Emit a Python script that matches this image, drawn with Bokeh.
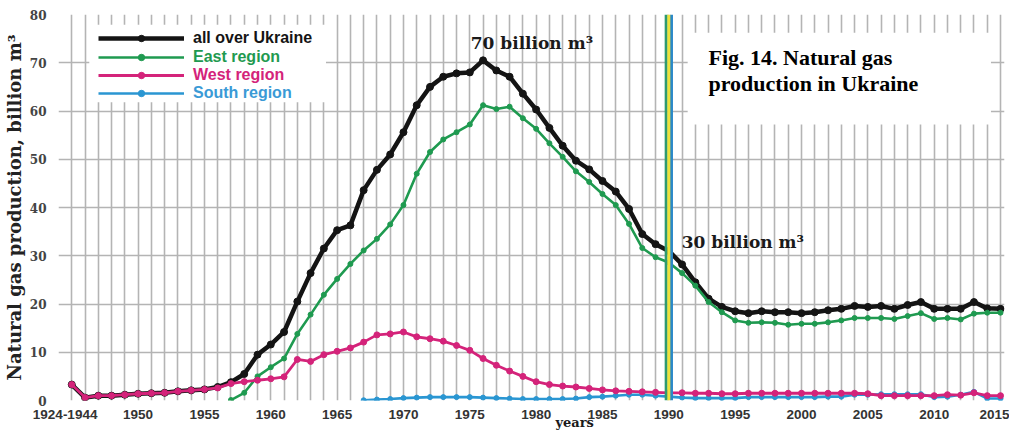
from bokeh.plotting import figure
from bokeh.models import (Legend, LegendItem, Label, Span, BoxAnnotation,
                          FixedTicker, SingleIntervalTicker, LinearAxis)
from bokeh.embed import file_html
from bokeh.resources import INLINE

# ---- data (billion m3) ----
# first position (1945) holds the "1924-1944" value
years_all = list(range(1945, 2016))
all_ukraine = [3.3, 0.6, 1.0, 1.0, 1.2, 1.4, 1.5, 1.6, 1.9, 2.1, 2.3,
               2.8, 3.8, 5.5, 9.5, 11.6, 14.2, 20.5, 26.4, 31.5, 35.3,
               36.3, 43.6, 47.8, 51.0, 55.6, 61.2, 65.0, 67.1, 67.8, 68.0,
               70.5, 68.4, 67.1, 63.6, 60.3, 56.5, 52.8, 49.7, 47.9, 45.5,
               43.3, 39.7, 34.5, 32.4, 31.0, 28.2, 24.5, 21.1, 19.4, 18.5,
               18.1, 18.5, 18.3, 18.3, 18.1, 18.3, 18.7, 19.0, 19.6, 19.4,
               19.6, 19.0, 19.8, 20.4, 19.0, 19.0, 19.0, 20.4, 19.1, 19.0]

years_east = list(range(1957, 2016))
east = [0.1, 1.6, 5.0, 6.9, 8.7, 13.8, 17.8, 21.9, 25.2, 28.3,
        31.1, 33.5, 36.5, 40.5, 47.0, 51.5, 54.1, 55.6, 57.2, 61.2,
        60.4, 60.9, 58.5, 56.3, 53.3, 50.5, 47.5, 45.3, 42.8, 40.5,
        36.6, 31.6, 29.7, 28.6, 26.4, 23.8, 20.4, 18.3, 16.6, 16.1,
        16.2, 16.1, 15.7, 15.9, 15.9, 16.2, 16.6, 17.1, 17.1, 17.1,
        16.9, 17.5, 18.1, 16.9, 17.1, 16.8, 18.0, 18.2, 18.2]

years_west = list(range(1945, 2016))
west = [3.3, 0.6, 1.0, 1.0, 1.2, 1.4, 1.5, 1.6, 1.9, 2.1, 2.3,
        2.6, 3.5, 3.9, 4.2, 4.5, 4.9, 8.5, 8.1, 9.5, 10.2,
        10.9, 12.1, 13.6, 13.8, 14.2, 13.2, 12.8, 12.3, 11.4, 10.4,
        8.7, 7.3, 6.1, 5.0, 3.9, 3.3, 3.0, 2.8, 2.5, 2.2,
        2.0, 1.9, 1.8, 1.7, 1.6, 1.6, 1.5, 1.5, 1.4, 1.4,
        1.5, 1.5, 1.5, 1.5, 1.5, 1.5, 1.5, 1.5, 1.5, 1.4,
        1.0, 1.0, 1.0, 1.0, 1.0, 1.2, 1.1, 1.6, 1.0, 1.0]

years_south = list(range(1967, 2016))
south = [0.05, 0.2, 0.3, 0.5, 0.6, 0.7, 0.7, 0.7, 0.7,
         0.6, 0.5, 0.4, 0.3, 0.3, 0.3, 0.3, 0.4, 0.7, 0.8,
         1.0, 1.2, 1.2, 1.0, 0.8, 0.6, 0.5, 0.5, 0.5, 0.5,
         0.7, 0.7, 0.7, 0.7, 0.7, 0.7, 0.8, 0.8, 1.2, 1.2,
         1.3, 1.3, 1.3, 1.3, 0.7, 0.8, 1.2, 1.8, 0.4, 0.4]

x_tick_pos = [1944.5, 1950, 1955, 1960, 1965, 1970, 1975, 1980, 1985,
              1990, 1995, 2000, 2005, 2010, 2015]
x_tick_labels = ["1924-1944", "1950", "1955", "1960", "1965", "1970", "1975",
                 "1980", "1985", "1990", "1995", "2000", "2005", "2010", "2015"]
y_ticks = [0, 10, 20, 30, 40, 50, 60, 70, 80]
marker_year = 1990
x_title_pos = 1982.9

series_names = ["all over Ukraine", "East region", "West region", "South region"]

BLACK = "#141414"
GREEN = "#1f9a50"
PINK = "#d4237a"
BLUE = "#2a96d2"

p = figure(width=1009, height=432, x_range=(1944, 2015.3), y_range=(0, 80),
           output_backend="svg", toolbar_location=None,
           min_border_left=49, min_border_right=5, min_border_top=14,
           min_border_bottom=31)
p.outline_line_color = None
p.background_fill_color = "white"
p.border_fill_color = "white"

# grid
p.xgrid.ticker = SingleIntervalTicker(interval=1)
p.ygrid.ticker = FixedTicker(ticks=y_ticks)
for g in (p.xgrid, p.ygrid):
    g.grid_line_color = "#b4b4b4"
    g.grid_line_width = 1.6

# axes
p.xaxis.ticker = FixedTicker(ticks=x_tick_pos)
p.xaxis.major_label_overrides = {k: v for k, v in zip(x_tick_pos, x_tick_labels)}
p.xaxis.axis_line_color = None
p.xaxis.major_tick_line_color = None
p.xaxis.minor_tick_line_color = None
p.xaxis.major_tick_out = 0
p.xaxis.major_tick_in = 0
p.xaxis.minor_tick_out = 0
p.xaxis.major_label_standoff = 9
p.xaxis.major_label_text_font = "Liberation Sans"
p.xaxis.major_label_text_font_style = "bold"
p.xaxis.major_label_text_font_size = "13.5px"
p.xaxis.major_label_text_color = "#333333"

# second bottom axis carrying only the "years" title at its place
years_axis = LinearAxis(ticker=FixedTicker(ticks=[x_title_pos]),
                        major_label_overrides={x_title_pos: "years"},
                        axis_line_color=None, major_tick_line_color=None,
                        minor_tick_line_color=None, major_tick_out=0,
                        major_tick_in=0, minor_tick_out=0,
                        major_label_standoff=-7,
                        major_label_text_font="DejaVu Serif",
                        major_label_text_font_style="bold",
                        major_label_text_font_size="13px",
                        major_label_text_color="#1a1a1a")
p.add_layout(years_axis, "below")

p.yaxis.ticker = FixedTicker(ticks=y_ticks)
p.yaxis.axis_line_color = None
p.yaxis.major_tick_line_color = None
p.yaxis.minor_tick_line_color = None
p.yaxis.major_tick_out = 0
p.yaxis.major_tick_in = 0
p.yaxis.minor_tick_out = 0
p.yaxis.major_label_standoff = 12
p.yaxis.major_label_text_font = "DejaVu Serif"
p.yaxis.major_label_text_font_style = "bold"
p.yaxis.major_label_text_font_size = "12px"
p.yaxis.major_label_text_color = "#444444"
p.yaxis.axis_label = "Natural gas production, billion m³"
p.yaxis.axis_label_text_font = "DejaVu Serif"
p.yaxis.axis_label_text_font_style = "bold"
p.yaxis.axis_label_text_font_size = "18px"
p.yaxis.axis_label_text_color = "#222222"
p.yaxis.axis_label_standoff = 2

# 1990 marker lines
p.add_layout(Span(location=marker_year - 0.2, dimension="height", line_color="#2e9a70", line_width=3))
p.add_layout(Span(location=marker_year + 0.2, dimension="height", line_color="#2a88c8", line_width=3))
p.add_layout(Span(location=marker_year, dimension="height", line_color="#eee23a", line_width=3))

# series
specs = [
    (years_all, all_ukraine, BLACK, 4.5, 7),
    (years_east, east, GREEN, 2.6, 5),
    (years_south, south, BLUE, 2.6, 5),
    (years_west, west, PINK, 2.8, 6),
]
renderers = {}
for xs, ys, col, lw, ms in specs:
    lr = p.line(xs, ys, line_color=col, line_width=lw, line_join="round")
    sr = p.scatter(xs, ys, size=ms, fill_color=col, line_color=col)
    renderers[col] = (lr, sr)

# white boxes (legend area and caption area)
p.add_layout(BoxAnnotation(left=1946.32, right=1964.16, bottom=61.8, top=77.9,
                           fill_color="white", fill_alpha=1.0, line_color=None))
p.add_layout(BoxAnnotation(left=1991.42, right=2014.28, bottom=57.2, top=76.2,
                           fill_color="white", fill_alpha=1.0, line_color=None))

# legends, one per series so each label gets its own colour
legend_rows = [(BLACK, BLACK, 353), (GREEN, GREEN, 334), (PINK, PINK, 316), (BLUE, "#3a9ad6", 298)]
for name, (col, tcol, ypos) in zip(series_names, legend_rows):
    leg = Legend(items=[LegendItem(label=name, renderers=list(renderers[col]))],
                 location=(40, ypos), glyph_width=86, glyph_height=16,
                 label_height=16, label_standoff=9, padding=0, margin=0,
                 spacing=0, background_fill_alpha=0, border_line_color=None,
                 label_text_font="Liberation Sans", label_text_font_style="bold",
                 label_text_font_size="16px", label_text_color=tcol)
    p.add_layout(leg)

# text annotations
common = dict(text_font="DejaVu Serif", text_font_style="bold", text_color="#1a1a1a")
p.add_layout(Label(x=1975.07, y=72.1, text="70 billion m³", text_font_size="17px", **common))
p.add_layout(Label(x=1990.97, y=30.8, text="30 billion m³", text_font_size="17px", **common))
cap = dict(text_font="Liberation Serif", text_font_style="bold", text_color="black",
           text_font_size="22px")
p.add_layout(Label(x=1992.99, y=68.6, text="Fig. 14. Natural gas", **cap))
p.add_layout(Label(x=1992.99, y=63.2, text="production in Ukraine", **cap))

open("out.html", "w").write(file_html(p, INLINE))
